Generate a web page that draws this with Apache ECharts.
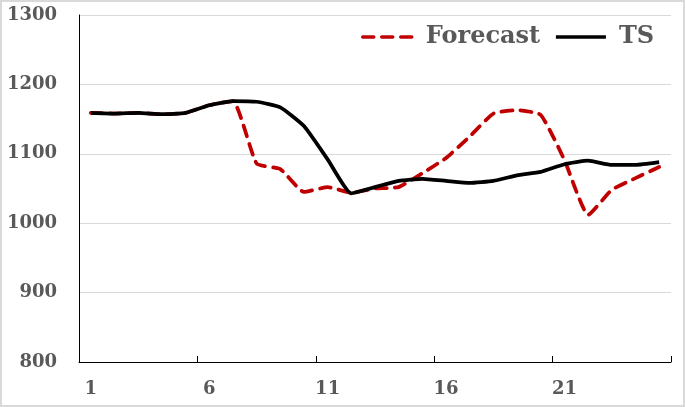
<!DOCTYPE html>
<html><head><meta charset="utf-8">
<script src="https://cdn.jsdelivr.net/npm/echarts@6/dist/echarts.min.js"></script>
<style>html,body{margin:0;padding:0;background:#fff}#c{width:685px;height:407px}</style>
</head><body><div id="c"></div>
<script>
const categories = ['1','2','3','4','5','6','7','8','9','10','11','12','13','14','15','16','17','18','19','20','21','22','23','24','25'];
const tsValues = [1159,1158,1159,1157,1159,1170,1176,1175,1167,1140,1092,1043,1052,1061,1064,1061,1058,1061,1069,1074,1085,1090,1084,1084,1088];
const forecastValues = [1159,1158,1159,1157,1159,1170,1176,1086,1078,1045,1052,1044,1050,1052,1072,1094,1125,1158,1163,1156,1091,1012,1048,1065,1081];
const yTicks = {min: 800, max: 1300, interval: 100};

const FONT = 'DejaVu Serif';
const chart = echarts.init(document.getElementById('c'), null, {renderer: 'canvas'});
chart.setOption({
  animation: false,
  backgroundColor: '#fff',
  graphic: [{type: 'rect', shape: {x: 1, y: 1, width: 683, height: 405}, style: {fill: 'none', stroke: '#d9d9d9', lineWidth: 2}, silent: true}],
  grid: {left: 79, right: 14, top: 15, bottom: 45},
  legend: {
    left: 356, top: 20, itemWidth: 50, itemHeight: 14, itemGap: 14,
    itemStyle: {opacity: 0},
    lineStyle: {width: 3.5},
    textStyle: {fontFamily: FONT, fontWeight: 'bold', fontSize: 24, color: '#595959', padding: [0, 0, 0, 8]},
    data: ['Forecast', 'TS']
  },
  xAxis: {
    type: 'category', data: categories, boundaryGap: true,
    axisLine: {lineStyle: {color: '#000', width: 1}},
    axisTick: {show: true, inside: true, length: 6, interval: 4, lineStyle: {color: '#000'}},
    axisLabel: {interval: 4, margin: 18, fontFamily: FONT, fontWeight: 'bold', fontSize: 18, color: '#595959'},
    splitLine: {show: false}
  },
  yAxis: {
    type: 'value', min: yTicks.min, max: yTicks.max, interval: yTicks.interval,
    axisLine: {show: true, lineStyle: {color: '#000', width: 1}},
    axisTick: {show: false},
    axisLabel: {margin: 22, fontFamily: FONT, fontWeight: 'bold', fontSize: 18, color: '#595959', formatter: v => String(v)},
    splitLine: {show: true, lineStyle: {color: '#d9d9d9', width: 1}}
  },
  series: [
    {name: 'Forecast', type: 'line', data: forecastValues, symbol: 'none', smooth: 0.15,
     lineStyle: {color: '#C00000', width: 3.75, type: [11, 8], cap: 'round'}, itemStyle: {color: '#C00000'}},
    {name: 'TS', type: 'line', data: tsValues, symbol: 'none', smooth: 0.15,
     lineStyle: {color: '#000', width: 3.75}, itemStyle: {color: '#000'}}
  ]
});
</script></body></html>
